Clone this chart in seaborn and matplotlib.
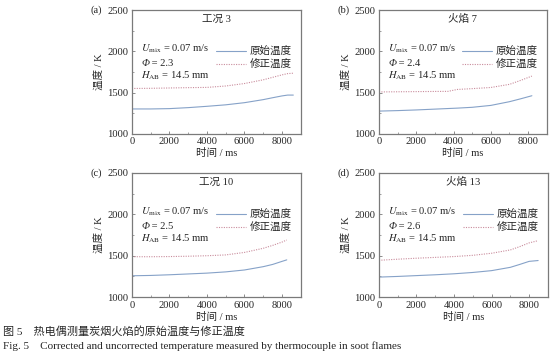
import matplotlib
matplotlib.use("Agg")
import matplotlib.pyplot as plt
import seaborn as sns
import pandas as pd

# ---- data ----
t_a = [0, 1000, 2000, 3000, 4000, 5000, 6000, 7000, 7500, 8000, 8300, 8600]
raw_a = [1302, 1302, 1306, 1318, 1334, 1352, 1378, 1415, 1438, 1460, 1470, 1470]
cor_a = [1550, 1552, 1556, 1560, 1563, 1580, 1610, 1655, 1685, 1715, 1730, 1735]

t_b = [0, 1000, 2000, 3000, 3700, 4200, 5000, 6000, 7000, 7600, 8200]
raw_b = [1276, 1282, 1290, 1300, 1307, 1312, 1322, 1345, 1390, 1425, 1462]
cor_b = [1508, 1510, 1512, 1514, 1515, 1538, 1548, 1562, 1600, 1648, 1700]

t_c = [0, 1000, 2000, 3000, 4000, 5000, 6000, 7000, 7500, 8000, 8250]
raw_c = [1258, 1262, 1270, 1280, 1290, 1305, 1328, 1368, 1395, 1432, 1450]
cor_c = [1488, 1488, 1490, 1494, 1500, 1510, 1540, 1590, 1625, 1665, 1690]

t_d = [0, 1000, 2000, 3000, 4000, 5000, 6000, 7000, 7500, 8000, 8480]
raw_d = [1242, 1250, 1260, 1270, 1282, 1298, 1320, 1360, 1395, 1432, 1442]
cor_d = [1445, 1458, 1470, 1480, 1490, 1505, 1530, 1570, 1610, 1655, 1682]

panel_labels = ["(a)", "(b)", "(c)", "(d)"]
titles = ["工况 3", "火焰 7", "工况 10", "火焰 13"]
phis = ["2.3", "2.4", "2.5", "2.6"]
series_names = ["原始温度", "修正温度"]
xlabel = "时间 / ms"
ylabel = "温度 / K"
caption_cn = "图 5　热电偶测量炭烟火焰的原始温度与修正温度"
caption_en = "Fig. 5　Corrected and uncorrected temperature measured by thermocouple in soot flames"

datasets = [(t_a, raw_a, cor_a), (t_b, raw_b, cor_b), (t_c, raw_c, cor_c), (t_d, raw_d, cor_d)]

sns.set_style("ticks")
plt.rcParams['font.family'] = ['Liberation Serif', 'Noto Sans CJK SC']
plt.rcParams['mathtext.fontset'] = 'stix'
plt.rcParams['axes.unicode_minus'] = False

fig = plt.figure(figsize=(5.54, 3.58), dpi=100)

positions = [
    (0.238, 0.626, 0.305, 0.346),
    (0.684, 0.626, 0.303, 0.346),
    (0.238, 0.170, 0.305, 0.347),
    (0.684, 0.170, 0.305, 0.347),
]

blue = "#86a2c8"
red = "#c98c9c"
spine_c = "#7a7a7a"
fs = 7.6

for i, (pos, (t, raw, cor)) in enumerate(zip(positions, datasets)):
    ax = fig.add_axes(pos)
    df = pd.DataFrame({
        "t": t + t,
        "T": raw + cor,
        "s": [series_names[0]] * len(t) + [series_names[1]] * len(t),
    })
    sns.lineplot(data=df, x="t", y="T", hue="s", style="s",
                 palette=[blue, red], dashes=[(None, None), (1, 1.2)],
                 linewidth=0.8, ax=ax, legend=False)
    ax.plot([], [], color=blue, lw=0.8, label=series_names[0])
    ax.plot([], [], color=red, lw=0.8, ls=(0, (1, 1.2)), label=series_names[1])
    ax.set_xlim(0, 9000)
    ax.set_ylim(1000, 2500)
    ax.set_xticks([0, 2000, 4000, 6000, 8000])
    ax.set_yticks([1000, 1500, 2000, 2500])
    ax.set_xticks(range(1000, 9000, 2000), minor=True)
    ax.set_yticks([1250, 1750, 2250], minor=True)
    ax.tick_params(which='both', direction='in', color=spine_c, labelsize=fs, pad=2.5)
    ax.tick_params(which='major', length=2.5, width=0.6)
    ax.tick_params(which='minor', length=1.5, width=0.5)
    for sp in ax.spines.values():
        sp.set_color(spine_c)
        sp.set_linewidth(0.9)
    ax.set_xlabel(xlabel, fontsize=fs, labelpad=1.5)
    ax.set_ylabel(ylabel, fontsize=fs, labelpad=2)
    ax.text(0.5, 0.927, titles[i], transform=ax.transAxes, ha='center', va='center', fontsize=fs)
    ax.text(-0.21, 1.0, panel_labels[i], transform=ax.transAxes, ha='center', va='center', fontsize=fs)
    ax.text(0.055, 0.69, r"$U_{\rm mix}$ = 0.07 m/s", transform=ax.transAxes,
            ha='left', va='center', fontsize=fs)
    phi_t = ax.text(0.055, 0.548, "Φ", transform=ax.transAxes, ha='left', va='baseline',
                    fontsize=fs, style='italic')
    ax.annotate(" = " + phis[i], xy=(1, 0), xycoords=phi_t, ha='left', va='bottom',
                fontsize=fs)
    ax.text(0.055, 0.468, r"$H_{\rm AB}$ = 14.5 mm", transform=ax.transAxes,
            ha='left', va='center', fontsize=fs)
    leg = ax.legend(loc='center right', bbox_to_anchor=(0.945, 0.612), frameon=False,
                    fontsize=fs, handlelength=2.9, handletextpad=0.3, labelspacing=0.25,
                    borderaxespad=0.0, borderpad=0.0)

fig.text(0.006, 0.075, caption_cn, fontsize=8, ha='left', va='center')
fig.text(0.006, 0.033, caption_en, fontsize=8, ha='left', va='center')

fig.savefig("out.png", dpi=100)
